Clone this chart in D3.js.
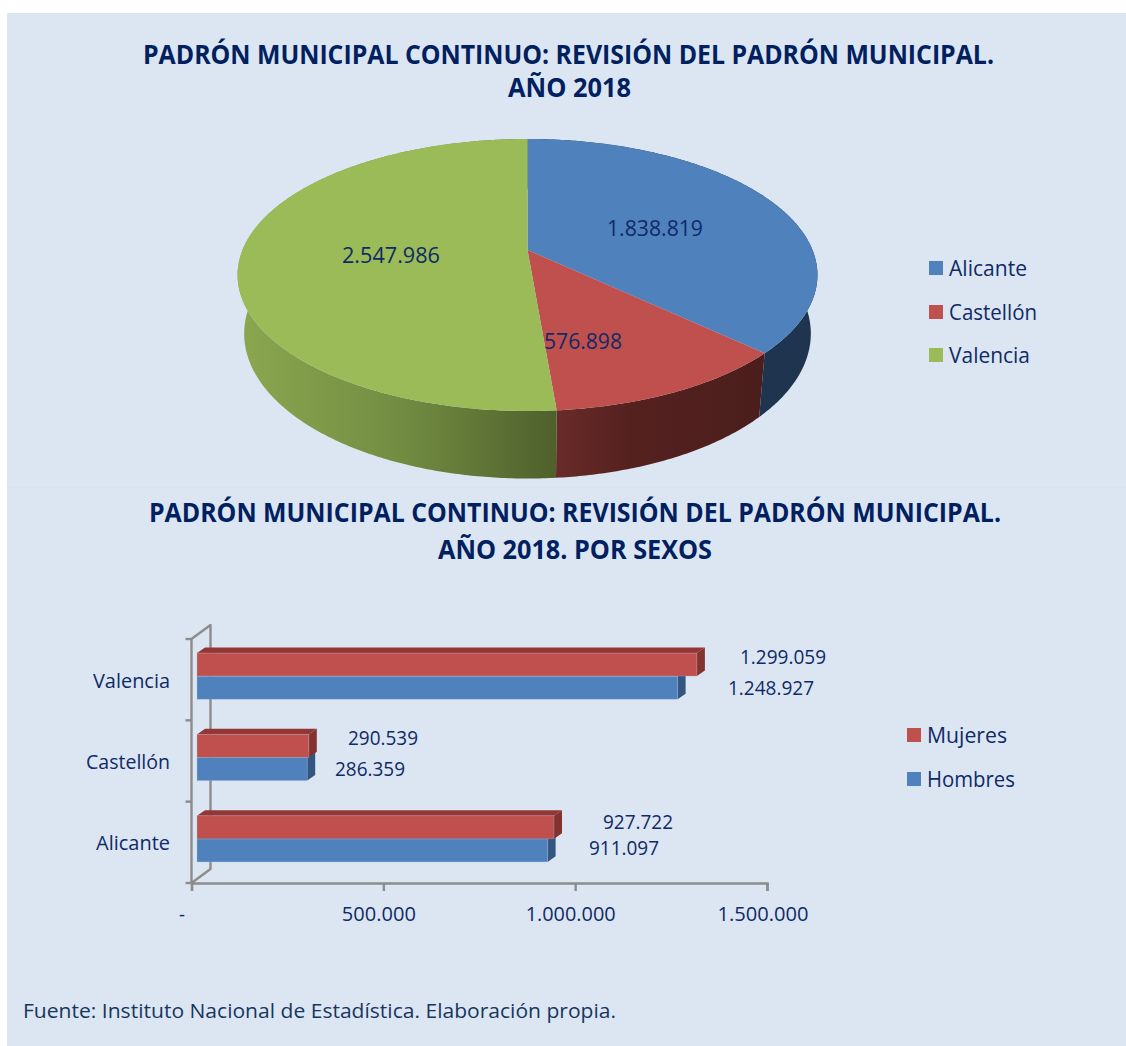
<!DOCTYPE html>
<html><head><meta charset="utf-8">
<script src="https://cdn.jsdelivr.net/npm/d3@7/dist/d3.min.js"></script>
<style>html,body{margin:0;padding:0;background:#fff}svg{display:block}text{font-family:"Open Sans",sans-serif;fill:#0f2a66}</style>
</head><body><svg id="c" width="1126" height="1046"></svg>
<script>
const pieCategories = ["Alicante", "Castellón", "Valencia"];
const pieValues = [1838819, 576898, 2547986];
const barCategories = ["Alicante", "Castellón", "Valencia"];
const hombres = [911097, 286359, 1248927];
const mujeres = [927722, 290539, 1299059];
const xTicks = [0, 500000, 1000000, 1500000];
const title1 = ["PADRÓN MUNICIPAL CONTINUO: REVISIÓN DEL PADRÓN MUNICIPAL.", "AÑO 2018"];
const title2 = ["PADRÓN MUNICIPAL CONTINUO: REVISIÓN DEL PADRÓN MUNICIPAL.", "AÑO 2018. POR SEXOS"];
const source = "Fuente: Instituto Nacional de Estadística. Elaboración propia.";

const BLUE = "#4f81bd", RED = "#c0504d", GREEN = "#9bbb59", INK = "#0f2a66", TITLE = "#002060";
const fmt = d3.formatLocale({decimal: ",", thousands: ".", grouping: [3], currency: ["", ""]}).format(",d");
const svg = d3.select("#c");
const defs = svg.append("defs");

svg.append("rect").attr("x", 7).attr("y", 13).attr("width", 1119).attr("height", 1033).attr("fill", "#dce6f2");
svg.append("rect").attr("x", 7).attr("y", 487).attr("width", 1119).attr("height", 1).attr("fill", "#d9e3f0");

function label(str, x, y, w, size, opts = {}) {
  return svg.append("text").text(str).attr("x", x).attr("y", y - (opts.weight ? 1 : 0.5))
    .attr("text-anchor", "start").attr("dominant-baseline", "central")
    .attr("font-size", size).attr("font-weight", opts.weight || 400)
    .attr("textLength", w).attr("lengthAdjust", "spacingAndGlyphs")
    .style("fill", opts.fill || INK);
}

// Titles
label(title1[0], 143, 55, 851, 26, {weight: 700, fill: TITLE});
label(title1[1], 508, 88, 123, 26, {weight: 700, fill: TITLE});
label(title2[0], 149, 513, 852, 26, {weight: 700, fill: TITLE});
label(title2[1], 438, 550, 274, 26, {weight: 700, fill: TITLE});

// ---------- Pie with perspective tilt ----------
const apexX = 527.5, tilt = 0.1838;
const discTop = {a: 285, b: 131.4, y0: 250};
const discBottom = {a: 278.5, b: 140, y0: 307};
const project = (angle, disc) => {
  const X = Math.sin(angle), Y = -Math.cos(angle), d = 1 - tilt * Y;
  return [apexX + disc.a * X / d, disc.y0 + disc.b * Y / d];
};
const rim = (a0, a1, disc) => {
  const n = Math.max(2, Math.ceil((a1 - a0) / 0.01));
  return d3.range(n + 1).map(i => project(a0 + (a1 - a0) * i / n, disc));
};
const arcs = d3.pie().sort(null)(pieValues);
const line = d3.line();
// Outer wall of a slice: one quad per rim step, so the silhouette joins both discs.
const wallPath = (a0, a1) => {
  const t = rim(a0, a1, discTop), b = rim(a0, a1, discBottom);
  return d3.range(t.length - 1).map(i => line([t[i], t[i + 1], b[i + 1], b[i]]) + "Z").join("");
};

function grad(id, x1, x2, stops) {
  const g = defs.append("linearGradient").attr("id", id).attr("gradientUnits", "userSpaceOnUse")
    .attr("x1", x1).attr("x2", x2).attr("y1", 0).attr("y2", 0);
  stops.forEach(([o, c]) => g.append("stop").attr("offset", o).attr("stop-color", c));
}
grad("wall0", 700, 820, [[0, "#1f354f"], [1, "#1f354f"]]);
grad("wall1", 556, 765, [[0, "#692b29"], [0.35, "#55211f"], [1, "#4a1e1c"]]);
grad("wall2", 244, 556, [[0, "#8aa64f"], [0.5, "#728d42"], [1, "#4f602c"]]);

const pieG = svg.append("g");
pieG.selectAll("path.wall").data(arcs).join("path").attr("class", "wall")
  .attr("d", d => wallPath(d.startAngle, d.endAngle))
  .attr("fill", (d, i) => `url(#wall${i})`);
pieG.selectAll("path.face").data(arcs).join("path").attr("class", "face")
  .attr("d", d => line([[apexX, discTop.y0]].concat(rim(d.startAngle, d.endAngle, discTop))) + "Z")
  .attr("fill", (d, i) => [BLUE, RED, GREEN][i]);

const pieLabelPos = [[655, 228, 96], [583, 341, 78], [391, 255, 98]];
pieValues.forEach((v, i) => label(fmt(v), pieLabelPos[i][0] - pieLabelPos[i][2] / 2, pieLabelPos[i][1], pieLabelPos[i][2], 21));

const pieLegendY = [268, 312, 355], pieLegendW = [78, 88, 81];
pieCategories.forEach((c, i) => {
  svg.append("rect").attr("x", 929).attr("y", pieLegendY[i] - 7).attr("width", 14).attr("height", 14).attr("fill", [BLUE, RED, GREEN][i]);
  label(c, 949, pieLegendY[i], pieLegendW[i], 21);
});

// ---------- 3D bar chart ----------
const x = d3.scaleLinear().domain([0, 1500000]).range([191.5, 767]);
const y = d3.scaleBand().domain(barCategories).range([883, 639]);
const AXIS = "#8c8c8c", floorDX = 5.5, barStretch = 1.003, depthX = 8, depthY = 5.6, barH = 23;

const wall = svg.append("g").attr("fill", "none").attr("stroke", AXIS).attr("stroke-width", 2.4);
const yTop = y.range()[1], yBot = y.range()[0];
wall.append("path").attr("stroke-linejoin", "round")
  .attr("d", line([[x(0), yBot], [x(0), yTop], [x(0) + 19, yTop - 14], [x(0) + 19, yBot - 14], [x(0), yBot]]));
const yEdges = barCategories.map(c => y(c)).concat(yBot);
wall.selectAll("line").data(yEdges).join("line")
  .attr("x1", x(0) - 6).attr("x2", x(0)).attr("y1", d => d).attr("y2", d => d);

const axisG = svg.append("g").attr("transform", `translate(0,${yBot})`)
  .call(d3.axisBottom(x).tickValues(xTicks).tickSize(8).tickFormat(d => d === 0 ? "-" : fmt(d)));
axisG.select(".domain").attr("stroke", AXIS).attr("stroke-width", 2.4);
axisG.selectAll(".tick line").attr("stroke", AXIS).attr("stroke-width", 2.4);
const tickW = [6, 74, 90, 91], tickDX = [-10, -5, -5, -4.5];
axisG.selectAll(".tick text").each(function (d, i) {
  d3.select(this).attr("font-family", null).attr("font-size", 19.5).attr("y", 30.5).attr("dy", "0")
    .attr("dominant-baseline", "central").attr("text-anchor", "middle").attr("x", tickDX[i])
    .attr("textLength", tickW[i]).attr("lengthAdjust", "spacingAndGlyphs").style("fill", INK);
});

function bar3d(g, vals, offsetTop, front, top, side) {
  const x0 = x(0) + floorDX;
  const xEnd = v => x0 + (x(v) - x(0)) * barStretch;
  const yF = c => y(c) + y.bandwidth() / 2 + offsetTop;
  const grp = g.selectAll(null).data(barCategories.map((c, i) => ({c, v: vals[i]}))).join("g");
  grp.append("path").attr("fill", top).attr("d", d => line([
    [x0, yF(d.c)], [x0 + depthX, yF(d.c) - depthY], [xEnd(d.v) + depthX, yF(d.c) - depthY], [xEnd(d.v), yF(d.c)]]) + "Z");
  grp.append("path").attr("fill", side).attr("d", d => line([
    [xEnd(d.v), yF(d.c)], [xEnd(d.v) + depthX, yF(d.c) - depthY], [xEnd(d.v) + depthX, yF(d.c) + barH - depthY], [xEnd(d.v), yF(d.c) + barH]]) + "Z");
  grp.append("rect").attr("x", x0).attr("y", d => yF(d.c)).attr("width", d => xEnd(d.v) - x0).attr("height", barH)
    .attr("fill", front).attr("stroke", "#a9c1de").attr("stroke-opacity", 0.3).attr("stroke-width", 1);
}
const bars = svg.append("g");
bar3d(bars, hombres, -3.4, BLUE, "#3a5f8c", "#33557f");
bar3d(bars, mujeres, -26.6, RED, "#943634", "#843230");

const catW = {"Valencia": 77, "Castellón": 84, "Alicante": 74};
barCategories.forEach(c => {
  label(c, 170 - catW[c], y(c) + y.bandwidth() / 2 + 1, catW[c], 19.5);
});

const hLabels = [[589, 848, 70], [335, 769, 70], [728, 688, 86]];
const mLabels = [[603, 822, 70], [348, 738, 70], [740, 657, 86]];
hombres.forEach((v, i) => label(fmt(v), hLabels[i][0], hLabels[i][1], hLabels[i][2], 19.5));
mujeres.forEach((v, i) => label(fmt(v), mLabels[i][0], mLabels[i][1], mLabels[i][2], 19.5));

const barLegend = [["Mujeres", RED, 735, 80], ["Hombres", BLUE, 779, 88]];
barLegend.forEach(([t, col, ly, w]) => {
  svg.append("rect").attr("x", 907).attr("y", ly - 7).attr("width", 14).attr("height", 14).attr("fill", col);
  label(t, 927, ly, w, 21);
});

label(source, 23, 1010.5, 593, 19.5, {fill: "#17365d"});
</script></body></html>
